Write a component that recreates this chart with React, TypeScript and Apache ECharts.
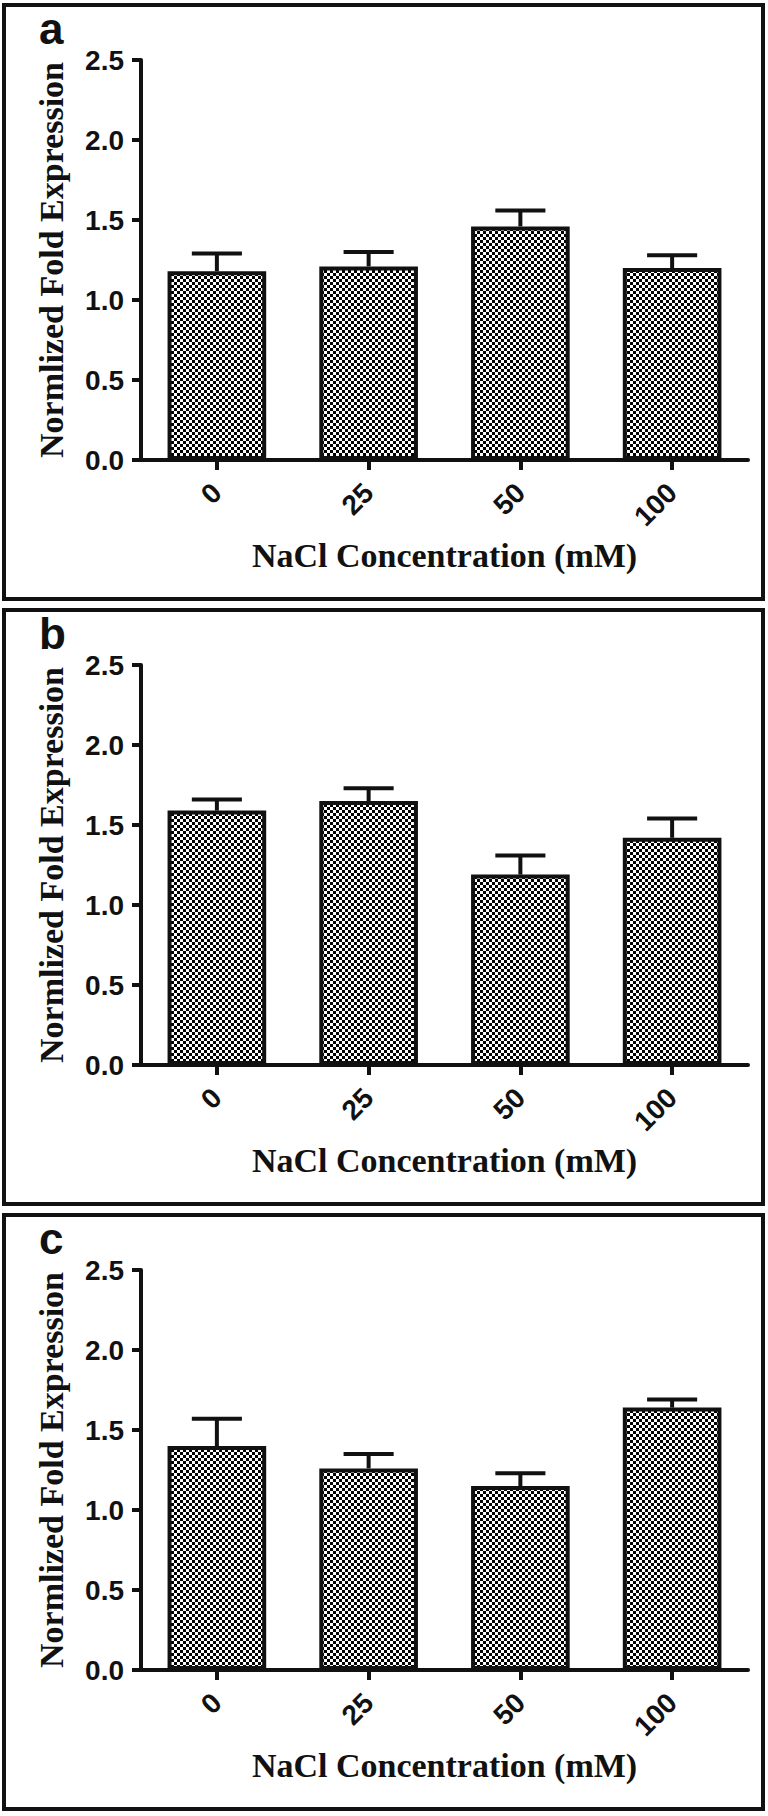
import React, { useEffect, useRef } from "react";
import * as echarts from "echarts";

// ---- data ----
const categories = ["0", "25", "50", "100"];
const panelLetters = ["a", "b", "c"];
const meanA = [1.18, 1.21, 1.46, 1.2];
const semA = [0.11, 0.09, 0.1, 0.08];
const meanB = [1.59, 1.65, 1.19, 1.42];
const semB = [0.07, 0.08, 0.12, 0.12];
const meanC = [1.4, 1.26, 1.15, 1.64];
const semC = [0.17, 0.09, 0.08, 0.05];
const yMin = 0;
const yMax = 2.5;
const yStep = 0.5;
const xTitle = "NaCl Concentration (mM)";
const yTitle = "Normlized Fold Expression";

const means = [meanA, meanB, meanC];
const sems = [semA, semB, semC];

const W = 768;
const H = 1816;
const panelTops = [5, 610, 1215];
const panelH = 594;
const SANS = "'Liberation Sans', Arial, sans-serif";
const SERIF = "'Liberation Serif', 'Times New Roman', serif";
const INK = "#111";

function makeChecker(size: number): string {
  const c = document.createElement("canvas");
  c.width = size * 2;
  c.height = size * 2;
  const ctx = c.getContext("2d")!;
  ctx.fillStyle = "#fff";
  ctx.fillRect(0, 0, size * 2, size * 2);
  ctx.fillStyle = "#000";
  ctx.fillRect(0, 0, size, size);
  ctx.fillRect(size, size, size, size);
  return c.toDataURL();
}

function buildOption(): any {
  const cell = 3;
  const pattern: any = {
    image: makeChecker(cell),
    repeat: "repeat",
    imageWidth: cell * 2,
    imageHeight: cell * 2,
  };

  const grids = panelTops.map((t) => ({
    left: 141,
    top: t + 55,
    width: 607,
    height: 400,
    containLabel: false,
  }));

  const xAxes = panelTops.map((_, i) => ({
    type: "category",
    gridIndex: i,
    data: categories,
    name: xTitle,
    nameLocation: "middle",
    nameGap: 78,
    nameTextStyle: { fontFamily: SERIF, fontWeight: "bold", fontSize: 34, color: INK },
    axisLine: { show: true, lineStyle: { color: INK, width: 4 } },
    axisTick: { show: true, alignWithLabel: true, length: 10, lineStyle: { color: INK, width: 4 } },
    axisLabel: {
      rotate: 45,
      margin: 28,
      fontFamily: SANS,
      fontWeight: "bold",
      fontSize: 28,
      color: INK,
    },
    splitLine: { show: false },
  }));

  const yAxes = panelTops.map((_, i) => ({
    type: "value",
    gridIndex: i,
    min: yMin,
    max: yMax,
    interval: yStep,
    axisLine: { show: true, lineStyle: { color: INK, width: 4 } },
    axisTick: { show: true, length: 9, lineStyle: { color: INK, width: 4 } },
    axisLabel: {
      margin: 17,
      fontFamily: SANS,
      fontWeight: "bold",
      fontSize: 28,
      color: INK,
      formatter: (v: number) => v.toFixed(1),
    },
    splitLine: { show: false },
  }));

  const series: any[] = [];
  panelTops.forEach((_, i) => {
    series.push({
      type: "bar",
      xAxisIndex: i,
      yAxisIndex: i,
      data: means[i],
      barWidth: "65%",
      itemStyle: { color: pattern, borderColor: INK, borderWidth: 4 },
      z: 2,
    });
    series.push({
      type: "custom",
      xAxisIndex: i,
      yAxisIndex: i,
      z: 3,
      data: means[i].map((m, k) => [k, m, m + sems[i][k]]),
      renderItem: (params: any, api: any) => {
        const k = api.value(0);
        const p0 = api.coord([k, api.value(1)]);
        const p1 = api.coord([k, api.value(2)]);
        const band = api.size([1, 0])[0];
        const half = band * 0.165;
        const st = { stroke: INK, lineWidth: 4 };
        return {
          type: "group",
          children: [
            { type: "line", shape: { x1: p0[0], y1: p0[1], x2: p1[0], y2: p1[1] }, style: st },
            { type: "line", shape: { x1: p1[0] - half, y1: p1[1], x2: p1[0] + half, y2: p1[1] }, style: st },
          ],
        };
      },
    });
  });

  const graphics: any[] = [];
  panelTops.forEach((t, i) => {
    graphics.push({
      type: "rect",
      shape: { x: 4, y: t, width: 759, height: panelH },
      style: { fill: "none", stroke: INK, lineWidth: 4 },
      silent: true,
    });
    graphics.push({
      type: "text",
      x: 39,
      y: t + 23,
      style: {
        text: panelLetters[i],
        font: `bold 44px ${SANS}`,
        fill: INK,
        textAlign: "left",
        textVerticalAlign: "middle",
      },
    });
    graphics.push({
      type: "text",
      x: 51,
      y: t + 255,
      rotation: Math.PI / 2,
      style: {
        text: yTitle,
        font: `bold 34px ${SERIF}`,
        fill: INK,
        textAlign: "center",
        textVerticalAlign: "middle",
      },
    });
  });

  return {
    animation: false,
    backgroundColor: "#fff",
    grid: grids,
    xAxis: xAxes,
    yAxis: yAxes,
    series,
    graphic: { elements: graphics },
  };
}

export default function App() {
  const ref = useRef<HTMLDivElement>(null);
  useEffect(() => {
    document.body.style.margin = "0";
    if (!ref.current) return;
    const chart = echarts.init(ref.current, undefined, { renderer: "svg", width: W, height: H });
    chart.setOption(buildOption());
    return () => chart.dispose();
  }, []);
  return (
    <div
      ref={ref}
      style={{ position: "absolute", left: 0, top: 0, width: W, height: H, background: "#fff" }}
    />
  );
}
